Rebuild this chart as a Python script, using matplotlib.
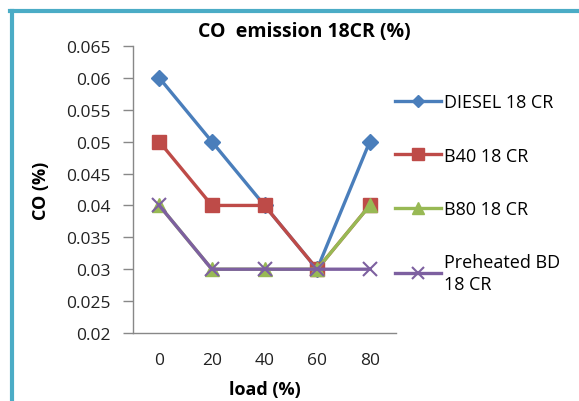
import matplotlib.pyplot as plt
from matplotlib.lines import Line2D

# Data
loads = ["0", "20", "40", "60", "80"]
diesel = [0.06, 0.05, 0.04, 0.03, 0.05]
b40 = [0.05, 0.04, 0.04, 0.03, 0.04]
b80 = [0.04, 0.03, 0.03, 0.03, 0.04]
preheated = [0.04, 0.03, 0.03, 0.03, 0.03]
yticks = [0.02, 0.025, 0.03, 0.035, 0.04, 0.045, 0.05, 0.055, 0.06, 0.065]
ytick_labels = ["0.02", "0.025", "0.03", "0.035", "0.04", "0.045", "0.05", "0.055", "0.06", "0.065"]

plt.rcParams["font.family"] = ["Open Sans", "DejaVu Sans"]

fig = plt.figure(figsize=(5.79, 4.02), dpi=100)
ax = fig.add_axes([0.2297, 0.1692, 0.4543, 0.7138])

x = list(range(len(loads)))
lw = 2.4
ax.plot(x, diesel, color="#4A7EBB", lw=lw, marker="D", ms=8, label="DIESEL 18 CR")
ax.plot(x, b40, color="#BE4B48", lw=lw, marker="s", ms=10, label="B40 18 CR")
ax.plot(x, b80, color="#98B954", lw=lw, marker="^", ms=10, label="B80 18 CR")
ax.plot(x, preheated, color="#7D60A0", lw=lw, marker="x", ms=10, mew=1.5,
        label="Preheated BD\n18 CR")

ax.set_xlim(-0.5, len(loads) - 0.5)
ax.set_ylim(0.02, 0.065)
ax.set_xticks(x)
ax.set_xticklabels(loads)
ax.set_yticks(yticks)
ax.set_yticklabels(ytick_labels)
ax.tick_params(axis="x", length=0, pad=14, labelsize=12.5, colors="#222222")
ax.tick_params(axis="y", length=7, width=1, color="#888888", labelsize=12.5,
               colors="#222222", pad=9)
for s in ["top", "right"]:
    ax.spines[s].set_visible(False)
for s in ["left", "bottom"]:
    ax.spines[s].set_color("#888888")
    ax.spines[s].set_linewidth(1)

ax.set_title("CO  emission 18CR (%)", fontsize=14, fontweight="bold", pad=7, x=0.65)
ax.set_xlabel("load (%)", fontsize=13, fontweight="bold", labelpad=8)
ax.set_ylabel("CO (%)", fontsize=13, fontweight="bold", labelpad=12)

leg = ax.legend(loc="upper left", bbox_to_anchor=(0.97, 0.86), frameon=False,
                fontsize=13, handlelength=2.5, handletextpad=0.2,
                labelspacing=1.95, borderaxespad=0, markerscale=0.8)
for t in leg.get_texts():
    t.set_linespacing(1.25)

# Outer frame (teal, top and left edges)
fig.add_artist(Line2D([10 / 579, 1], [1 - 12 / 402, 1 - 12 / 402],
                      transform=fig.transFigure, color="#4BACC6", lw=3))
fig.add_artist(Line2D([12 / 579, 12 / 579], [0, 1 - 12 / 402],
                      transform=fig.transFigure, color="#4BACC6", lw=3))

fig.savefig("out.png", dpi=100)
